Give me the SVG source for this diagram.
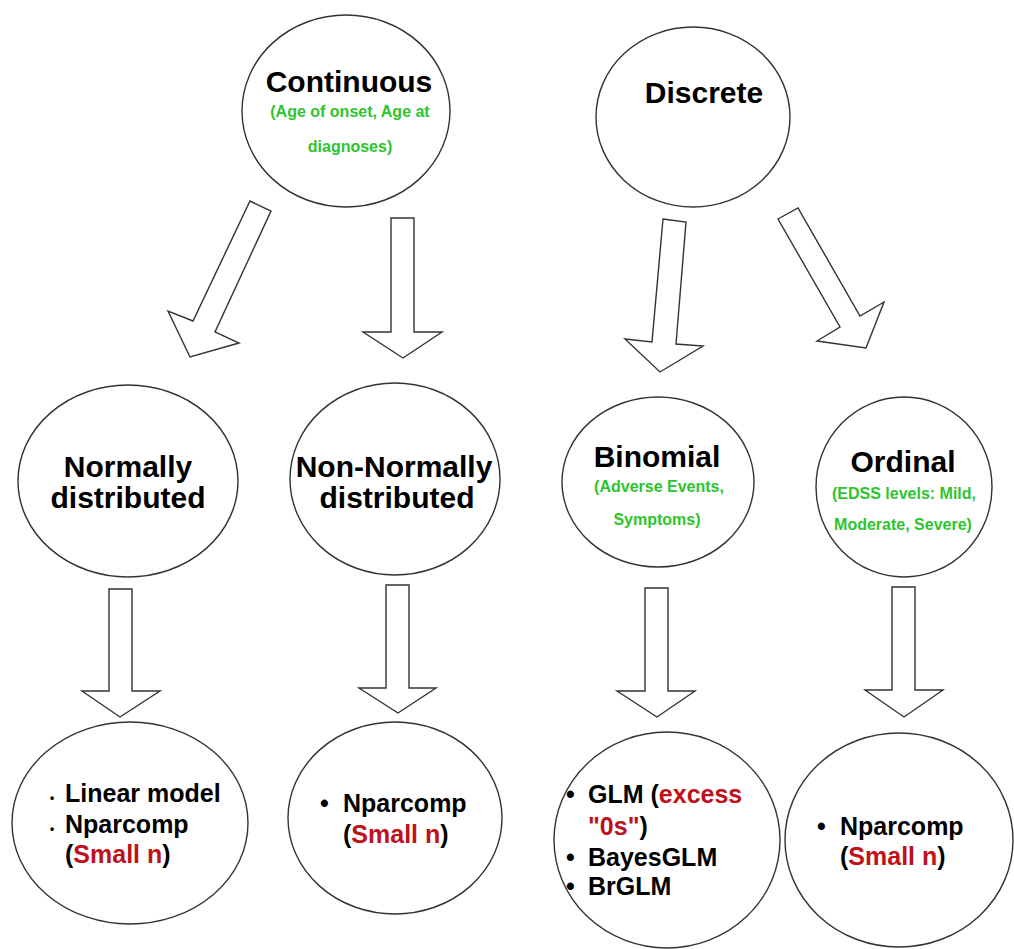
<svg xmlns="http://www.w3.org/2000/svg" width="1014" height="949" viewBox="0 0 1014 949">
  <style>
    .node { fill: #ffffff; stroke: #333333; stroke-width: 1.4; }
    .arrow { fill: #ffffff; stroke: #333333; stroke-width: 1.4; stroke-linejoin: miter; }
    .title { font-family: "Liberation Sans", Arial, sans-serif; font-weight: bold; font-size: 30px; fill: #000000; text-anchor: middle; }
    .sub { font-family: "Liberation Sans", Arial, sans-serif; font-weight: bold; font-size: 16px; fill: #2ec42e; text-anchor: middle; }
    .item { font-family: "Liberation Sans", Arial, sans-serif; font-weight: bold; font-size: 25px; fill: #000000; }
    .red { fill: #c0101a; }
    .dot { font-family: "Liberation Sans", Arial, sans-serif; font-weight: bold; font-size: 12px; fill: #000000; }
  </style>
  <rect x="0" y="0" width="1014" height="949" fill="#ffffff"/>

  <!-- block arrows -->
  <g id="connectors">
    <polygon class="arrow" points="250,201 271,211 215,332 239,343 190,357 168,311 193,321"/>
    <polygon class="arrow" points="391,218 414,218 414,332 442,332 403,358 363,332 391,332"/>
    <polygon class="arrow" points="663,219 686,222 676,344 703,346 660,372 625,339 652,342"/>
    <polygon class="arrow" points="778,219 798,208 860,316 884,302 866,348 817,341 840,327"/>
    <polygon class="arrow" points="109,589 132,589 132,691 160,691 120,717 82,691 109,691"/>
    <polygon class="arrow" points="386,585 409,585 409,688 436,688 398,713 359,688 386,688"/>
    <polygon class="arrow" points="645,588 668,588 668,691 695,691 657,717 617,691 645,691"/>
    <polygon class="arrow" points="892,587 915,587 915,690 943,690 904,717 865,690 892,690"/>
  </g>

  <g id="continuous">
    <ellipse class="node" cx="346" cy="111" rx="104" ry="96"/>
    <text class="title" x="349" y="92">Continuous</text>
    <text class="sub" x="350" y="117">(Age of onset, Age at</text>
    <text class="sub" x="350" y="152">diagnoses)</text>
  </g>

  <g id="discrete">
    <ellipse class="node" cx="693" cy="117" rx="97" ry="90"/>
    <text class="title" x="704" y="103">Discrete</text>
  </g>

  <g id="normal">
    <ellipse class="node" cx="128" cy="481" rx="110" ry="96"/>
    <text class="title" x="128" y="477">Normally</text>
    <text class="title" x="128" y="508">distributed</text>
  </g>

  <g id="non-normal">
    <ellipse class="node" cx="395" cy="479" rx="105" ry="96"/>
    <text class="title" x="394" y="477">Non-Normally</text>
    <text class="title" x="397" y="508">distributed</text>
  </g>

  <g id="binomial">
    <ellipse class="node" cx="658" cy="482" rx="96" ry="85"/>
    <text class="title" x="657" y="467">Binomial</text>
    <text class="sub" x="659" y="492">(Adverse Events,</text>
    <text class="sub" x="657" y="525">Symptoms)</text>
  </g>

  <g id="ordinal">
    <ellipse class="node" cx="904" cy="487" rx="88" ry="90"/>
    <text class="title" x="903" y="472">Ordinal</text>
    <text class="sub" x="904" y="499">(EDSS levels: Mild,</text>
    <text class="sub" x="903" y="530">Moderate, Severe)</text>
  </g>

  <g id="normal-methods">
    <ellipse class="node" cx="130" cy="823" rx="118" ry="101"/>
    <text class="dot" x="50" y="802">•</text>
    <text class="item" x="65" y="802">Linear model</text>
    <text class="dot" x="50" y="833">•</text>
    <text class="item" x="65" y="833">Nparcomp</text>
    <text class="item" x="65" y="863">(<tspan class="red">Small n</tspan>)</text>
  </g>

  <g id="non-normal-methods">
    <ellipse class="node" cx="395" cy="818" rx="107" ry="96"/>
    <text class="item" x="320" y="812">•</text>
    <text class="item" x="343" y="812">Nparcomp</text>
    <text class="item" x="343" y="843">(<tspan class="red">Small n</tspan>)</text>
  </g>

  <g id="binomial-methods">
    <ellipse class="node" cx="667" cy="840" rx="113" ry="108"/>
    <text class="item" x="566" y="803">•</text>
    <text class="item" x="588" y="803">GLM (<tspan class="red">excess</tspan></text>
    <text class="item" x="588" y="835"><tspan class="red">"0s"</tspan>)</text>
    <text class="item" x="566" y="866">•</text>
    <text class="item" x="588" y="866">BayesGLM</text>
    <text class="item" x="566" y="895">•</text>
    <text class="item" x="588" y="895">BrGLM</text>
  </g>

  <g id="ordinal-methods">
    <ellipse class="node" cx="899" cy="840" rx="114" ry="107"/>
    <text class="item" x="817" y="835">•</text>
    <text class="item" x="840" y="835">Nparcomp</text>
    <text class="item" x="840" y="865">(<tspan class="red">Small n</tspan>)</text>
  </g>
</svg>
